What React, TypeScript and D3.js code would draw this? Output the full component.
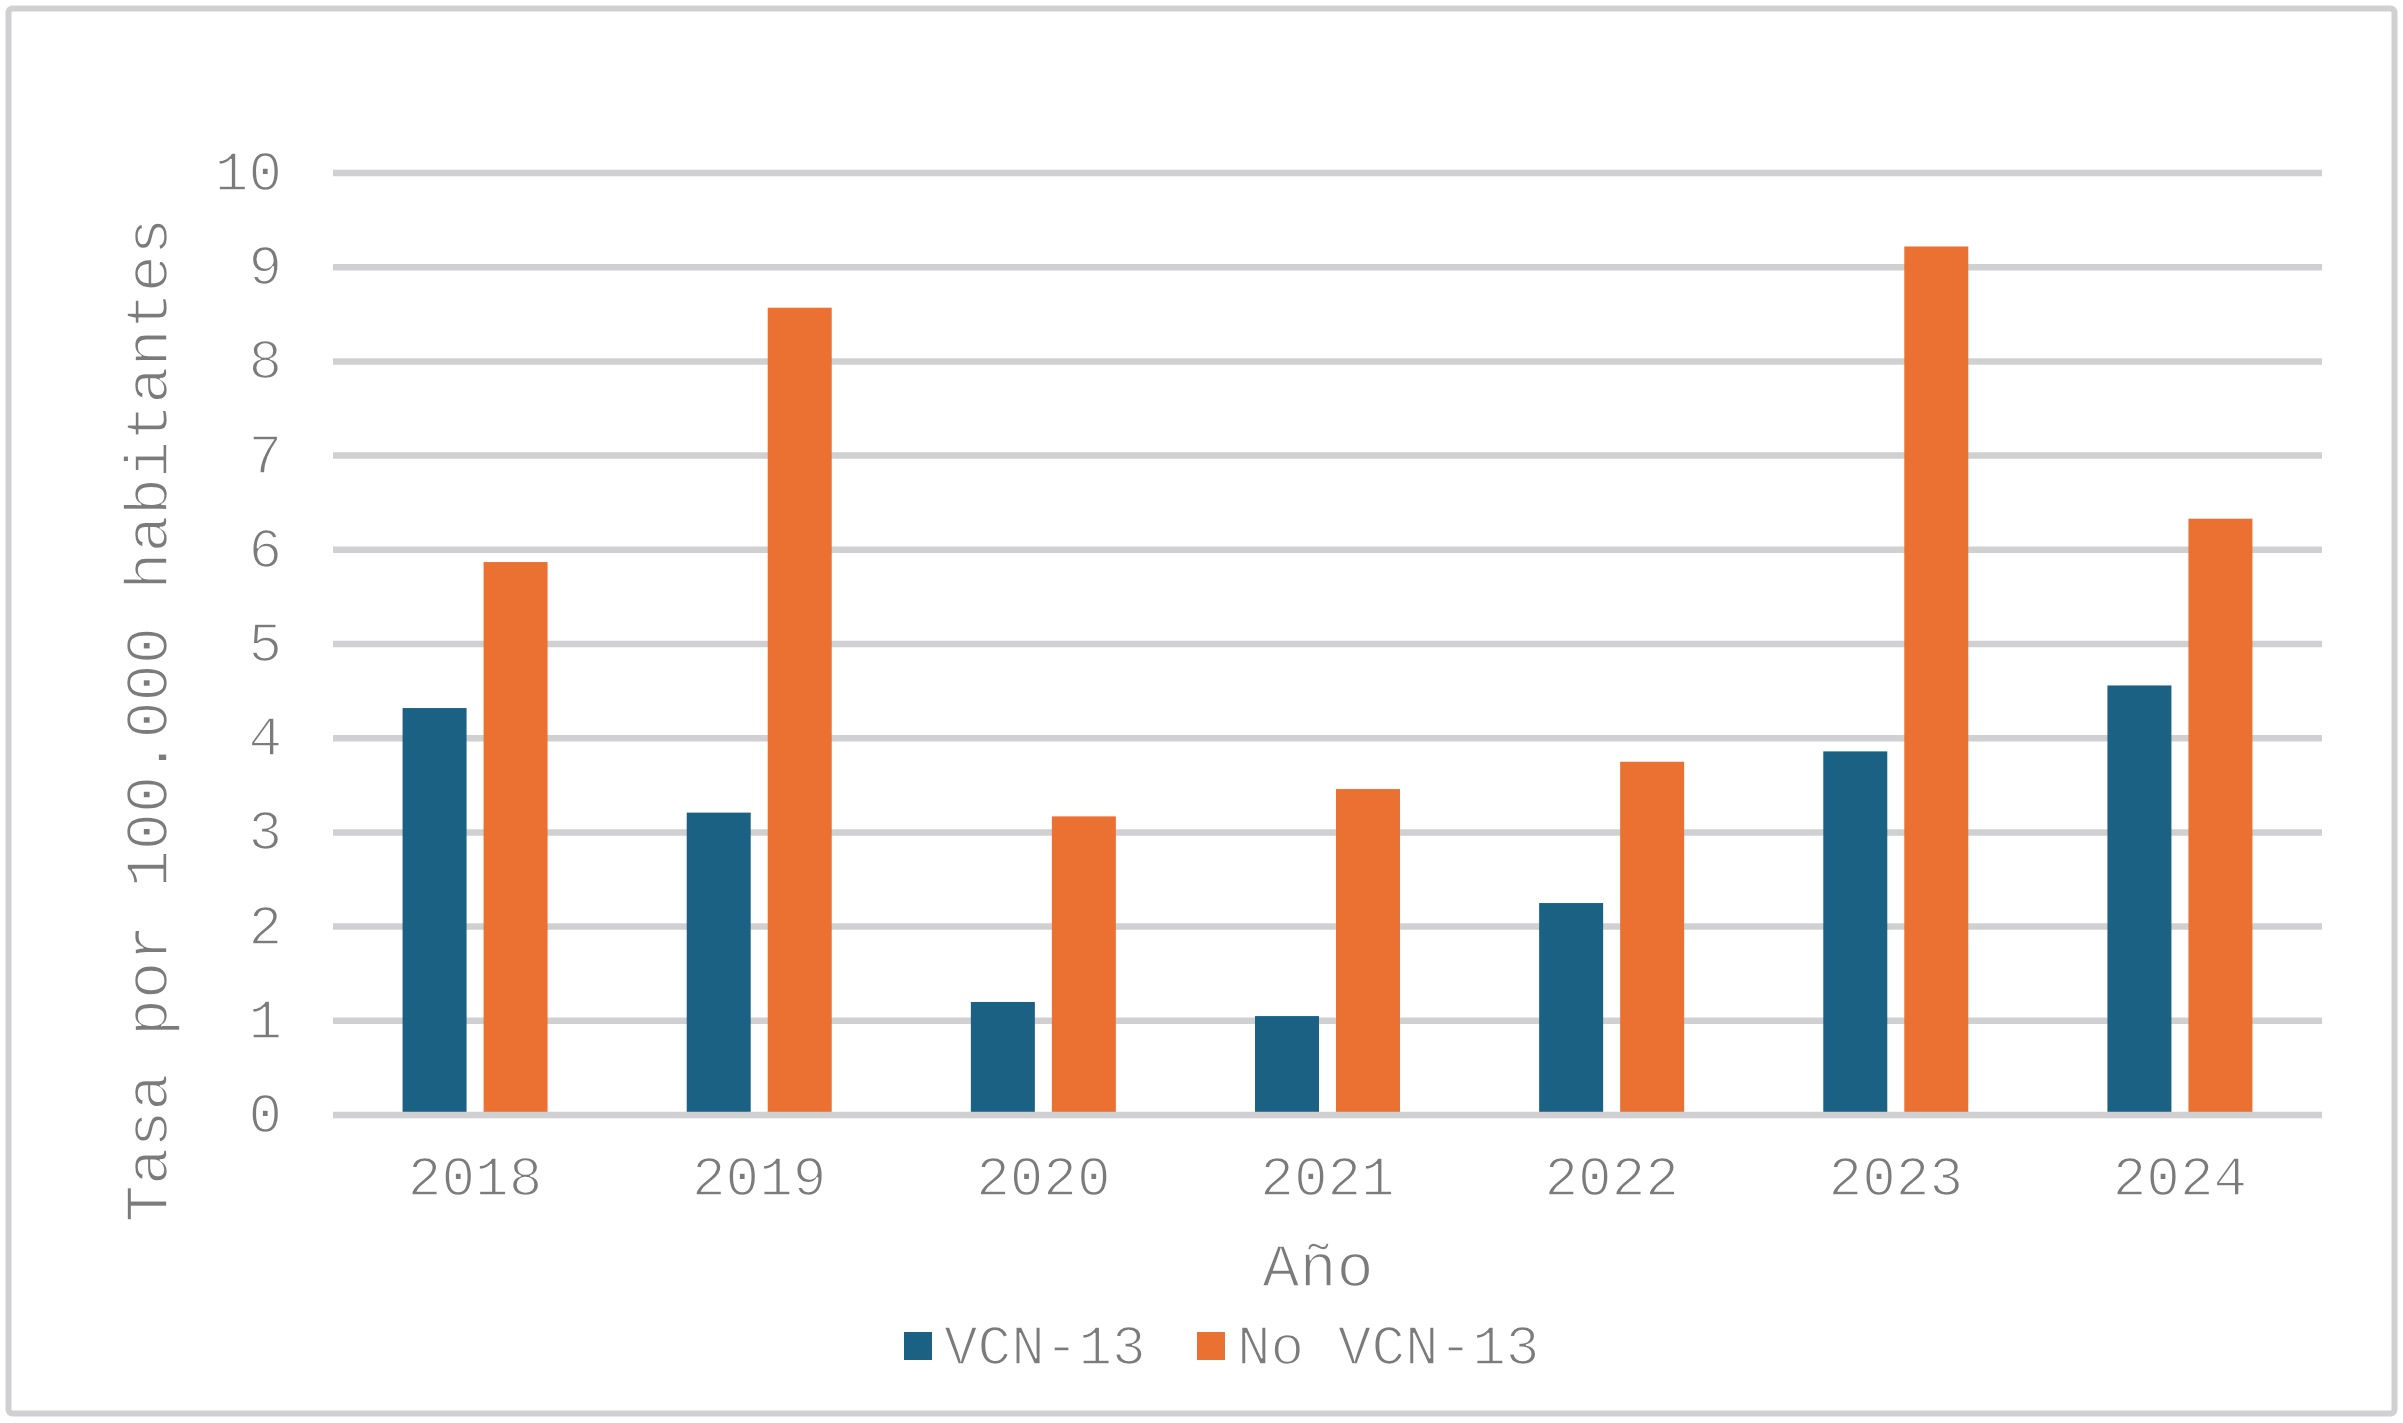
import React, { useEffect } from "react";
import * as d3 from "d3";

const years = ["2018", "2019", "2020", "2021", "2022", "2023", "2024"];
const seriesNames = ["VCN-13", "No VCN-13"];
const vcn13 = [4.32, 3.21, 1.2, 1.05, 2.25, 3.86, 4.56];
const noVcn13 = [5.87, 8.57, 3.17, 3.46, 3.75, 9.22, 6.33];
const yTicks = [0, 1, 2, 3, 4, 5, 6, 7, 8, 9, 10];
const colors = ["#1a6184", "#eb7132"];

const W = 2403;
const H = 1423;
const FONT = "'Liberation Mono', 'Courier New', monospace";
const TXT = "#7b7b7b";
const GRID = "#d0d0d2";

const thin = { stroke: "#fff", strokeWidth: 1.6, paintOrder: "fill" as const };

export default function App() {
  useEffect(() => {
    document.body.style.margin = "0";
  }, []);

  const x = d3.scaleBand<string>().domain(years).range([333, 2322]).padding(0);
  const bw = x.bandwidth();
  const sub = d3
    .scaleBand<string>()
    .domain(seriesNames)
    .range([bw / 2 - 72.5, bw / 2 + 72.5])
    .paddingInner(0.21)
    .paddingOuter(0);
  const y = d3.scaleLinear().domain([0, 10]).range([1115, 173]);
  const values = [vcn13, noVcn13];
  const tickSize = 56;

  return (
    <svg width={W} height={H} style={{ display: "block", background: "#fff" }}>
      <rect x={8.5} y={8.5} width={2386} height={1405} rx={4} fill="#fff" stroke={GRID} strokeWidth={6} />
      {yTicks.filter((t) => t !== 0).map((t) => (
        <line key={t} x1={333} x2={2322} y1={y(t)} y2={y(t)} stroke={GRID} strokeWidth={6.5} />
      ))}
      {values.map((vals, si) =>
        years.map((yr, i) => (
          <rect
            key={si + "-" + yr}
            x={(x(yr) as number) + (sub(seriesNames[si]) as number)}
            y={y(vals[i])}
            width={sub.bandwidth()}
            height={y(0) - 3 - y(vals[i])}
            fill={colors[si]}
          />
        ))
      )}
      <line x1={333} x2={2322} y1={y(0)} y2={y(0)} stroke={GRID} strokeWidth={6.5} />
      <g fontFamily={FONT} fill={TXT} {...thin}>
        {yTicks.map((t) => (
          <text key={t} x={282} y={y(t) + 17} textAnchor="end" fontSize={tickSize}>
            {t}
          </text>
        ))}
        {years.map((yr) => (
          <text key={yr} x={(x(yr) as number) + bw / 2} y={1195} textAnchor="middle" fontSize={tickSize}>
            {yr}
          </text>
        ))}
        <text transform={`translate(167,720) rotate(-90)`} textAnchor="middle" fontSize={62}>
          Tasa por 100.000 habitantes
        </text>
        <text x={1318} y={1286} textAnchor="middle" fontSize={62}>
          Año
        </text>
        <text x={944} y={1364} fontSize={tickSize}>
          {seriesNames[0]}
        </text>
        <text x={1237} y={1364} fontSize={tickSize}>
          {seriesNames[1]}
        </text>
      </g>
      <rect x={904} y={1332} width={28} height={28} fill={colors[0]} />
      <rect x={1197} y={1332} width={28} height={28} fill={colors[1]} />
    </svg>
  );
}
